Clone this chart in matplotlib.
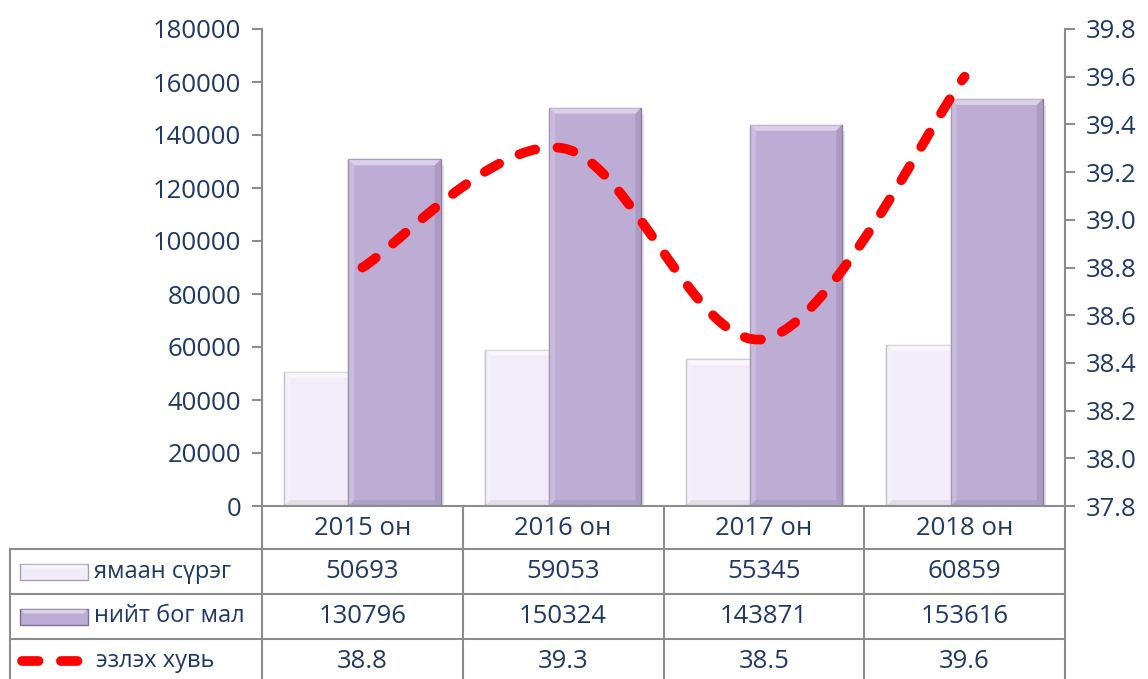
import numpy as np
import matplotlib
matplotlib.use('Agg')
import matplotlib.pyplot as plt
from matplotlib.path import Path
from matplotlib.patches import PathPatch, Polygon

plt.rcParams['font.family'] = ['Open Sans', 'Noto Sans', 'DejaVu Sans']

# data
years = ['2015 он', '2016 он', '2017 он', '2018 он']
goats = [50693, 59053, 55345, 60859]
small_stock = [130796, 150324, 143871, 153616]
share = [38.8, 39.3, 38.5, 39.6]
row_names = ['ямаан сүрэг', 'нийт бог мал', 'эзлэх хувь']

W, H = 1148, 679
txt = '#1F3864'
grid = '#8C8C8C'
light = '#F1ECF7'
dark = '#BDACD3'
fs = 18.5

# pixel layout
left_px, right_px, top_px, base_px = 262, 1065, 29, 506

fig = plt.figure(figsize=(W / 100, H / 100), dpi=100)
ax = fig.add_axes([left_px / W, 1 - base_px / H, (right_px - left_px) / W, (base_px - top_px) / H])
ax2 = ax.twinx()

x = np.arange(len(years))
off, bw = 0.16, 0.46
pxu = (right_px - left_px) / len(years)   # pixels per category unit
pyv = (base_px - top_px) / 180000.0       # pixels per value


def bevel_bar(xc, h, color, hi, lo, z):
    ax.bar(xc, h, bw, color=color, edgecolor=lo, linewidth=1.0, zorder=z)
    bx = 6 / pxu
    by = 6 / pyv
    x0, x1 = xc - bw / 2, xc + bw / 2
    # top highlight
    ax.add_patch(Polygon([(x0, h), (x1, h), (x1 - bx, h - by), (x0 + bx, h - by)],
                         closed=True, facecolor=hi, alpha=0.55, edgecolor='none', zorder=z + 0.1))
    # left highlight
    ax.add_patch(Polygon([(x0, h), (x0 + bx, h - by), (x0 + bx, by), (x0, 0)],
                         closed=True, facecolor=hi, alpha=0.25, edgecolor='none', zorder=z + 0.1))
    # right shade
    ax.add_patch(Polygon([(x1, h), (x1 - bx, h - by), (x1 - bx, by), (x1, 0)],
                         closed=True, facecolor=lo, alpha=0.35, edgecolor='none', zorder=z + 0.1))
    # bottom shade
    ax.add_patch(Polygon([(x0, 0), (x1, 0), (x1 - bx, by), (x0 + bx, by)],
                         closed=True, facecolor=lo, alpha=0.25, edgecolor='none', zorder=z + 0.1))
    # drop shadow
    ax.add_patch(Polygon([(x1, h - by), (x1 + 3 / pxu, h - by), (x1 + 3 / pxu, 0), (x1, 0)],
                         closed=True, facecolor='#C8C8C8', alpha=0.5, edgecolor='none', zorder=z - 0.5))


for i in range(len(years)):
    bevel_bar(x[i] - off, goats[i], light, '#FFFFFF', '#B8ADC6', 2)
    bevel_bar(x[i] + off, small_stock[i], dark, '#F4EEFB', '#8C7BA3', 3)

ax.set_xlim(-0.5, len(years) - 0.5)
ax.set_ylim(0, 180000)
ax.set_yticks(np.arange(0, 180001, 20000))
ax.set_xticks([])
for s in ['top', 'right', 'bottom']:
    ax.spines[s].set_visible(False)
ax.spines['left'].set_color(grid)
ax.spines['left'].set_linewidth(1.5)
ax.tick_params(axis='y', colors=grid, labelcolor=txt, labelsize=fs, length=7, width=1.5, pad=8)
ax.axhline(0, color=grid, lw=1.5, zorder=5, clip_on=False)

# smoothed line (bezier through the data points)
pts = np.column_stack([x, share]).astype(float)
verts = [tuple(pts[0])]
codes = [Path.MOVETO]
n = len(pts)
for i in range(n - 1):
    p0 = pts[max(i - 1, 0)]
    p1 = pts[i]
    p2 = pts[i + 1]
    p3 = pts[min(i + 2, n - 1)]
    c1 = p1 + (p2 - p0) / 6
    c2 = p2 - (p3 - p1) / 6
    verts += [tuple(c1), tuple(c2), tuple(p2)]
    codes += [Path.CURVE4] * 3
line = PathPatch(Path(verts, codes), facecolor='none', edgecolor='#FF0000', lw=7,
                 capstyle='round', zorder=6)
line.set_linestyle((0, (1.7, 2.3)))
ax2.add_patch(line)
ax2.set_ylim(37.8, 39.8)
ax2.set_yticks(np.round(np.arange(37.8, 39.81, 0.2), 1))
ax2.set_yticklabels(['%.1f' % v for v in np.arange(37.8, 39.81, 0.2)])
for s in ['top', 'left', 'bottom']:
    ax2.spines[s].set_visible(False)
ax2.spines['right'].set_color(grid)
ax2.spines['right'].set_linewidth(1.5)
ax2.tick_params(axis='y', colors=grid, labelcolor=txt, labelsize=fs, length=7, width=1.5, pad=8)
ax.set_zorder(1)
ax2.set_zorder(2)
ax2.patch.set_visible(False)

# data table drawn in pixel coordinates
tab = fig.add_axes([0, 0, 1, 1], zorder=3)
tab.set_xlim(0, W)
tab.set_ylim(H, 0)
tab.axis('off')
tab.patch.set_visible(False)

col_x = [left_px + pxu * i for i in range(len(years) + 1)]
row_y = [base_px, 549, 594, 639, H + 5]
for cx in col_x:
    tab.plot([cx, cx], [base_px, H], color=grid, lw=1.5)
tab.plot([10, 10], [row_y[1], H], color=grid, lw=1.5)
for ry in row_y[1:4]:
    tab.plot([10, right_px], [ry, ry], color=grid, lw=1.5)

for i, yl in enumerate(years):
    tab.text((col_x[i] + col_x[i + 1]) / 2, (row_y[0] + row_y[1]) / 2 + 1, yl,
             ha='center', va='center', color=txt, fontsize=fs)
for r, vals in enumerate([goats, small_stock, share]):
    yc = (row_y[r + 1] + row_y[r + 2]) / 2 if r < 2 else (row_y[3] + H) / 2 + 2
    for i, v in enumerate(vals):
        tab.text((col_x[i] + col_x[i + 1]) / 2, yc, str(v),
                 ha='center', va='center', color=txt, fontsize=fs)
    tab.text(94 if r < 2 else 96, yc, row_names[r], ha='left', va='center', color=txt, fontsize=17)

# legend keys
for r, (fc, ec) in enumerate([(light, '#A99CB9'), (dark, '#7E6E95')]):
    yc = (row_y[r + 1] + row_y[r + 2]) / 2
    tab.add_patch(Polygon([(20, yc - 8), (88, yc - 8), (88, yc + 8), (20, yc + 8)],
                          closed=True, facecolor=fc, edgecolor=ec, lw=1))
    tab.add_patch(Polygon([(21, yc - 7), (87, yc - 7), (84, yc - 3), (24, yc - 3)],
                          closed=True, facecolor='white', alpha=0.5, edgecolor='none'))
yk = (row_y[3] + H) / 2 + 2
tab.plot([22, 78], [yk, yk], color='#FF0000', lw=7, solid_capstyle='round',
         dash_capstyle='round', linestyle=(0, (1.7, 2.3)))

fig.savefig('out.png', dpi=100)
